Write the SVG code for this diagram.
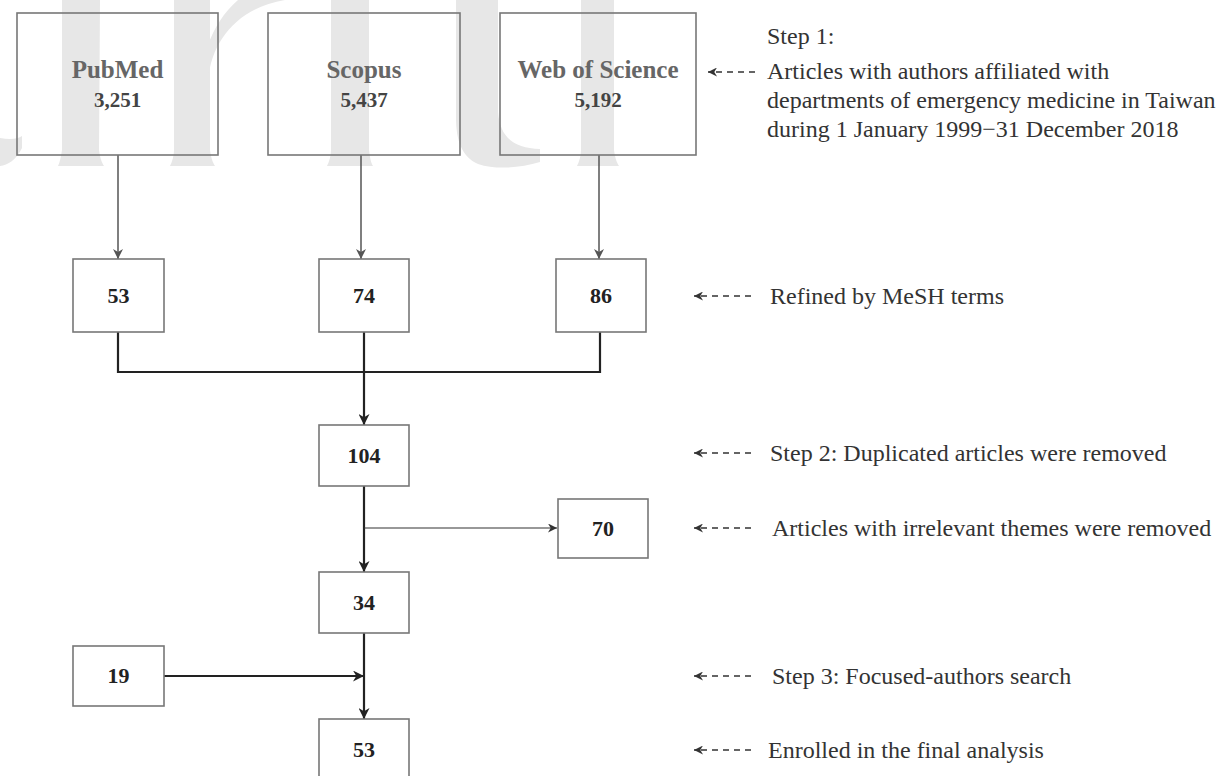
<svg xmlns="http://www.w3.org/2000/svg" width="1228" height="776" viewBox="0 0 1228 776">
<style>
.wm{fill:#e7e7e7;stroke:none}
.box{fill:none;stroke:#777;stroke-width:1.6}
.title{font-family:"Liberation Serif","Times New Roman",serif;font-weight:bold;font-size:25px;fill:#666;text-anchor:middle}
.tnum{font-family:"Liberation Serif","Times New Roman",serif;font-weight:bold;font-size:21px;fill:#444;text-anchor:middle}
.num{font-family:"Liberation Serif","Times New Roman",serif;font-weight:bold;font-size:22px;fill:#222;text-anchor:middle}
.note{font-family:"Liberation Serif","Times New Roman",serif;font-size:24px;fill:#333}
.c-top{fill:none;stroke:#555;stroke-width:1.5}
.c-main{fill:none;stroke:#222;stroke-width:2.2}
.c-thin{fill:none;stroke:#333;stroke-width:1.2}
.dash{fill:none;stroke:#333;stroke-width:1.6;stroke-dasharray:6 5}
</style>
<defs>
<marker id="ahTop" viewBox="0 0 10 10" refX="10" refY="5" markerWidth="10" markerHeight="10" markerUnits="userSpaceOnUse" orient="auto">
<path d="M0,0 L10,5 L0,10 L3,5 Z" fill="#555"/>
</marker>
<marker id="ahMain" viewBox="0 0 10 10" refX="10" refY="5" markerWidth="11" markerHeight="11" markerUnits="userSpaceOnUse" orient="auto">
<path d="M0,0 L10,5 L0,10 L3,5 Z" fill="#222"/>
</marker>
<marker id="ahSmall" viewBox="0 0 10 10" refX="10" refY="5" markerWidth="9" markerHeight="9" markerUnits="userSpaceOnUse" orient="auto">
<path d="M0,0 L10,5 L0,10 L3,5 Z" fill="#333"/>
</marker>
</defs>
<rect width="1228" height="776" fill="#fff"/>
<g id="watermark">
<path class="wm" d="M0,138 C10,140 18,139 22,136 L22,148 C16,160 8,165 0,166 Z"/>
<path class="wm" d="M62,0 L100,0 L99,150 C100,158 102,163 104,166 L58,166 C60,162 61,156 62,150 Z"/>
<path class="wm" d="M174,0 L210,0 L210,150 C211,158 213,163 215,166 L170,166 C172,162 174,156 174,150 Z"/>
<path class="wm" d="M208,80 C212,40 238,8 285,0 L238,0 C224,12 214,28 208,45 Z"/>
<path class="wm" d="M331,0 L369,0 L369,150 C370,158 371,163 373,166 L327,166 C329,162 331,156 331,150 Z"/>
<path class="wm" d="M456,0 L498,0 L498,112 C500,138 514,148 540,149 L540,162 C520,168 496,170 478,164 C462,157 456,140 456,118 Z"/>
<path class="wm" d="M581,0 L614,0 L614,150 C615,158 617,163 619,166 L577,166 C579,162 581,156 581,150 Z"/>
</g>
<g id="connectors">
<line class="c-top" x1="118" y1="155" x2="118" y2="259" marker-end="url(#ahTop)"/>
<line class="c-top" x1="361" y1="155" x2="361" y2="259" marker-end="url(#ahTop)"/>
<line class="c-top" x1="599" y1="155" x2="599" y2="259" marker-end="url(#ahTop)"/>
<polyline class="c-main" points="118,332 118,372 600,372 600,332"/>
<line class="c-main" x1="364" y1="332" x2="364" y2="425" marker-end="url(#ahMain)"/>
<line class="c-main" x1="364" y1="486" x2="364" y2="572" marker-end="url(#ahMain)"/>
<line class="c-thin" x1="364" y1="528" x2="557" y2="528" marker-end="url(#ahSmall)"/>
<line class="c-main" x1="364" y1="633" x2="364" y2="719" marker-end="url(#ahMain)"/>
<line class="c-main" x1="164" y1="676" x2="364" y2="676" marker-end="url(#ahMain)"/>
</g>
<g id="node-pubmed">
<rect class="box" x="17" y="13" width="201" height="142"/>
<text class="title" x="117.5" y="78">PubMed</text>
<text class="tnum" x="117.5" y="107">3,251</text>
</g>
<g id="node-scopus">
<rect class="box" x="268" y="13" width="192" height="142"/>
<text class="title" x="364" y="78">Scopus</text>
<text class="tnum" x="364" y="107">5,437</text>
</g>
<g id="node-wos">
<rect class="box" x="500" y="13" width="196" height="142"/>
<text class="title" x="598" y="78">Web of Science</text>
<text class="tnum" x="598" y="107">5,192</text>
</g>
<g id="node-53a">
<rect class="box" x="73" y="259" width="91" height="73"/>
<text class="num" x="118.5" y="303">53</text>
</g>
<g id="node-74">
<rect class="box" x="319" y="259" width="90" height="73"/>
<text class="num" x="364" y="303">74</text>
</g>
<g id="node-86">
<rect class="box" x="556" y="259" width="90" height="73"/>
<text class="num" x="601" y="303">86</text>
</g>
<g id="node-104">
<rect class="box" x="319" y="425" width="90" height="61"/>
<text class="num" x="364" y="463">104</text>
</g>
<g id="node-70">
<rect class="box" x="558" y="499" width="90" height="59"/>
<text class="num" x="603" y="536">70</text>
</g>
<g id="node-34">
<rect class="box" x="319" y="572" width="90" height="61"/>
<text class="num" x="364" y="610">34</text>
</g>
<g id="node-19">
<rect class="box" x="73" y="646" width="91" height="60"/>
<text class="num" x="118.5" y="683">19</text>
</g>
<g id="node-53b">
<rect class="box" x="319" y="719" width="90" height="62"/>
<text class="num" x="364" y="757">53</text>
</g>
<g id="annotations">
<line class="dash" x1="755" y1="72" x2="708" y2="72" marker-end="url(#ahSmall)"/>
<text class="note" x="767" y="44">Step 1:</text>
<text class="note" x="767" y="79">Articles with authors affiliated with</text>
<text class="note" x="767" y="108">departments of emergency medicine in Taiwan</text>
<text class="note" x="767" y="137">during 1 January 1999−31 December 2018</text>
<line class="dash" x1="751" y1="296" x2="694" y2="296" marker-end="url(#ahSmall)"/>
<text class="note" x="770" y="304">Refined by MeSH terms</text>
<line class="dash" x1="751" y1="453" x2="694" y2="453" marker-end="url(#ahSmall)"/>
<text class="note" x="770" y="461">Step 2: Duplicated articles were removed</text>
<line class="dash" x1="751" y1="528" x2="694" y2="528" marker-end="url(#ahSmall)"/>
<text class="note" x="772" y="536">Articles with irrelevant themes were removed</text>
<line class="dash" x1="751" y1="676" x2="694" y2="676" marker-end="url(#ahSmall)"/>
<text class="note" x="772" y="684">Step 3: Focused-authors search</text>
<line class="dash" x1="751" y1="750" x2="694" y2="750" marker-end="url(#ahSmall)"/>
<text class="note" x="768" y="758">Enrolled in the final analysis</text>
</g>
</svg>
